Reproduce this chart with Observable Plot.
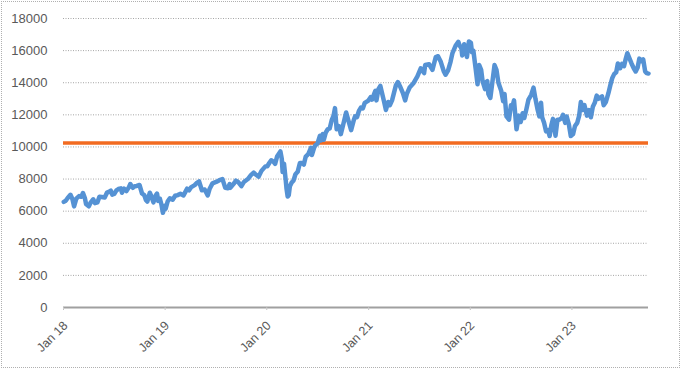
<!DOCTYPE html>
<html>
<head>
<meta charset="utf-8">
<script src="https://cdn.jsdelivr.net/npm/d3@7"></script>
<script src="https://cdn.jsdelivr.net/npm/@observablehq/plot@0.6"></script>
<style>
  html, body { margin: 0; padding: 0; background: #fff; }
  #chart svg { display: block; outline: 1px dotted #b0b0b0; outline-offset: -2px; }
</style>
</head>
<body>
<div id="chart"></div>
<script>
const dates = [
"2018-01-02","2018-01-09","2018-01-16","2018-01-26","2018-02-02","2018-02-08","2018-02-16","2018-02-26","2018-03-06","2018-03-12","2018-03-19","2018-03-23","2018-04-02","2018-04-09","2018-04-18","2018-04-24","2018-05-03","2018-05-10","2018-05-18","2018-05-29","2018-06-06","2018-06-13","2018-06-20","2018-06-25","2018-07-02","2018-07-10","2018-07-17","2018-07-26","2018-07-30","2018-08-07","2018-08-15","2018-08-24","2018-08-29","2018-09-07","2018-09-14","2018-09-21","2018-10-01","2018-10-10","2018-10-18","2018-10-24","2018-10-29","2018-11-07","2018-11-12","2018-11-20","2018-11-28","2018-12-03","2018-12-07","2018-12-13","2018-12-19","2018-12-24","2018-12-31",
"2019-01-03","2019-01-10","2019-01-18","2019-01-28","2019-02-06","2019-02-15","2019-02-25","2019-03-08","2019-03-21","2019-03-28","2019-04-05","2019-04-17","2019-04-26","2019-05-03","2019-05-13","2019-05-23","2019-06-03","2019-06-10","2019-06-20","2019-07-03","2019-07-15","2019-07-26","2019-08-05","2019-08-14","2019-08-21","2019-08-23","2019-09-04","2019-09-12","2019-09-20","2019-10-02","2019-10-11","2019-10-25","2019-11-05","2019-11-15","2019-11-21","2019-12-03","2019-12-13","2019-12-27",
"2020-01-03","2020-01-10","2020-01-17","2020-01-24","2020-01-31","2020-02-07","2020-02-19","2020-02-24","2020-02-27","2020-03-03","2020-03-09","2020-03-12","2020-03-16","2020-03-20","2020-03-24","2020-03-31","2020-04-06","2020-04-13","2020-04-21","2020-04-29","2020-05-06","2020-05-13","2020-05-20","2020-05-29","2020-06-08","2020-06-11","2020-06-19","2020-06-23","2020-07-01","2020-07-10","2020-07-13","2020-07-20","2020-07-24","2020-07-31","2020-08-07","2020-08-14","2020-08-21","2020-08-28","2020-09-02","2020-09-08","2020-09-16","2020-09-23","2020-10-01","2020-10-12","2020-10-20","2020-10-30","2020-11-09","2020-11-13","2020-11-20","2020-11-27","2020-12-04","2020-12-11","2020-12-18","2020-12-31",
"2021-01-08","2021-01-13","2021-01-25","2021-01-29","2021-02-05","2021-02-12","2021-02-25","2021-03-04","2021-03-12","2021-03-18","2021-03-26","2021-04-09","2021-04-16","2021-04-23","2021-05-04","2021-05-12","2021-05-18","2021-05-28","2021-06-10","2021-06-25","2021-07-07","2021-07-19","2021-07-23","2021-08-06","2021-08-18","2021-08-30","2021-09-07","2021-09-17","2021-09-28","2021-10-04","2021-10-13","2021-10-22","2021-10-29","2021-11-09","2021-11-19","2021-11-24","2021-11-30","2021-12-03","2021-12-10","2021-12-20","2021-12-27",
"2022-01-03","2022-01-07","2022-01-12","2022-01-20","2022-01-27","2022-02-02","2022-02-09","2022-02-14","2022-02-23","2022-02-24","2022-03-03","2022-03-07","2022-03-14","2022-03-21","2022-03-29","2022-04-05","2022-04-12","2022-04-22","2022-04-29","2022-05-04","2022-05-11","2022-05-20","2022-05-27","2022-06-01","2022-06-07","2022-06-16","2022-06-24","2022-07-01","2022-07-08","2022-07-14","2022-07-22","2022-07-29","2022-08-08","2022-08-16","2022-08-23","2022-08-31","2022-09-06","2022-09-12","2022-09-16","2022-09-23","2022-09-30","2022-10-07","2022-10-13","2022-10-19","2022-10-25","2022-11-03","2022-11-10","2022-11-17","2022-11-25","2022-11-30","2022-12-08","2022-12-13","2022-12-21","2022-12-28",
"2023-01-05","2023-01-12","2023-01-20","2023-01-27","2023-02-02","2023-02-08","2023-02-15","2023-02-24","2023-03-03","2023-03-10","2023-03-17","2023-03-24","2023-03-31","2023-04-06","2023-04-19","2023-04-25","2023-05-03","2023-05-12","2023-05-19","2023-05-26","2023-06-02","2023-06-09","2023-06-15","2023-06-23","2023-06-30","2023-07-07","2023-07-13","2023-07-19","2023-07-27","2023-08-03","2023-08-11","2023-08-18","2023-08-25","2023-08-31","2023-09-08","2023-09-14","2023-09-21","2023-09-26","2023-10-03"
];
const values = [
6580,6650,6820,7020,6760,6300,6780,6940,6900,7130,6800,6450,6300,6550,6740,6500,6550,6900,6880,6850,7150,7200,7280,7030,7070,7300,7380,7420,7150,7400,7250,7500,7690,7450,7550,7570,7630,7100,7000,6700,6600,7150,6950,6550,6970,7100,6640,6780,6400,5900,6330,
6150,6600,6800,6710,6960,7000,7080,6980,7400,7300,7500,7620,7780,7850,7300,7350,6980,7400,7730,7820,7930,8000,7450,7430,7690,7450,7700,7900,7820,7560,7820,8000,8240,8400,8300,8150,8510,8790,
8800,9000,9170,9100,8950,9400,9720,9260,8440,8950,7950,7400,6910,7000,7550,7800,7900,8300,8450,9000,9000,8900,9400,9550,9950,9500,9950,10100,10200,10700,10400,10800,10450,10900,11100,11150,11650,11950,12420,11100,11300,10800,11350,12150,11650,11050,11700,11900,11850,12250,12450,12400,12750,12890,
13100,12950,13500,12900,13600,13800,12850,12300,12800,12600,12900,13850,14040,13800,13350,12900,13300,13700,13950,14400,14900,14600,15100,15150,14800,15600,15650,15300,14700,14500,14750,15300,15850,16300,16550,16300,16150,15700,16400,15600,16570,
16500,15900,16000,14900,13900,15100,14800,14100,13600,14000,14100,13300,13050,14000,15100,14800,14000,13500,12850,13300,11900,11700,12600,12500,12900,11100,11950,11550,12100,11800,12400,12950,13250,13700,13000,12300,11900,12750,11850,11500,10970,11050,10680,11350,11750,10700,11700,11700,11800,12000,11500,11900,11400,10680,
10800,11300,11500,11950,12800,12300,12600,11950,12300,11850,12500,12750,13200,13000,13150,12600,12800,13350,13850,14300,14550,14650,15200,14900,15180,15030,15470,15840,15500,15200,14900,14700,14950,15500,15350,15450,14700,14600,14570
];
const refLevel = [10250];
const yTicks = [0,2000,4000,6000,8000,10000,12000,14000,16000,18000];
const xTickDates = ["2018-01-01","2019-01-01","2020-01-01","2021-01-01","2022-01-01","2023-01-01"];
const xTickLabels = ["Jan 18","Jan 19","Jan 20","Jan 21","Jan 22","Jan 23"];
const domainX = ["2018-01-01","2023-10-03"];

const parse = d3.utcParse("%Y-%m-%d");
const data = dates.map((d, i) => ({date: parse(d), value: values[i]}));
const xt = xTickDates.map(parse);
const labelFor = new Map(xt.map((d, i) => [+d, xTickLabels[i]]));

const chart = Plot.plot({
  width: 681,
  height: 369,
  marginLeft: 63,
  marginRight: 33,
  marginTop: 18,
  marginBottom: 62,
  style: {fontFamily: "'Liberation Sans', Arial, sans-serif", fontSize: "12.5px", color: "#595959", background: "#fff"},
  x: {type: "utc", domain: domainX.map(parse)},
  y: {domain: [0, 18000]},
  marks: [
    Plot.gridY(yTicks, {stroke: "#a6a6a6", strokeOpacity: 1, strokeWidth: 1, strokeDasharray: "1,1.5"}),
    Plot.axisY(yTicks, {tickSize: 0, tickPadding: 16, label: null, fill: "#595959", fontSize: 13, tickFormat: d => String(d)}),
    Plot.ruleY([0], {stroke: "#a0a0a0", strokeWidth: 2}),
    Plot.axisX(xt, {tickSize: 4, stroke: "#c0c0c0", strokeDasharray: "1,1", label: null, tickFormat: () => ""}),
    Plot.axisX(xt, {tickSize: 0, tickRotate: -45, tickPadding: 16, dx: 2, label: null, fill: "#595959", fontSize: 12.5, tickFormat: d => labelFor.get(+d)}),
    Plot.ruleY(refLevel, {stroke: "#f26b21", strokeWidth: 3.5}),
    Plot.lineY(data, {x: "date", y: "value", stroke: "#5592d4", strokeWidth: 4.5, strokeLinejoin: "round"})
  ]
});
document.getElementById("chart").appendChild(chart);
</script>
</body>
</html>
